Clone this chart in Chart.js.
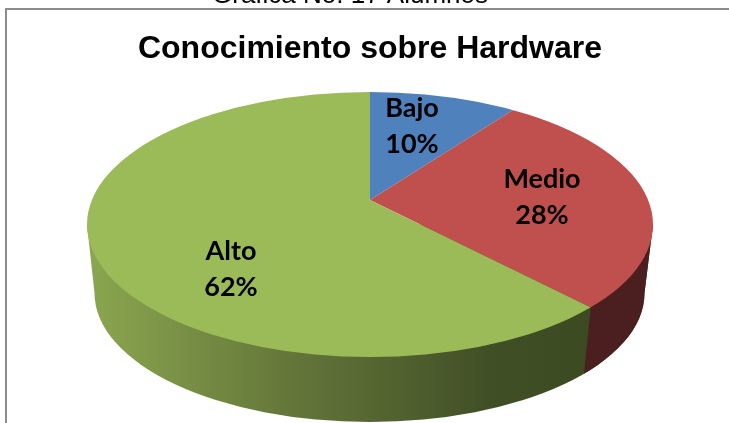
<!DOCTYPE html>
<html><head><meta charset="utf-8">
<style>html,body{margin:0;padding:0;background:#fff;overflow:hidden}canvas{display:block}</style>
<script src="https://cdn.jsdelivr.net/npm/chart.js@4"></script>
</head><body><canvas id="c" width="729" height="423"></canvas>
<script>
const categories = ['Bajo', 'Medio', 'Alto'];
const values = [10, 28, 62];
const sliceColors = ['#4f81bd', '#c0504d', '#9bbb59'];
const caption = 'Gráfica No. 17 Alumnos';
const chartTitle = 'Conocimiento sobre Hardware';

const APEX = {x: 370, y: 200}, TILT = 0.457;
const TOP_E = {cx: 370, cy: 224.5, rx: 283, ry: 132.5};
const BOT_E = {cx: 369.5, cy: 293, rx: 275, ry: 129};
const LABEL_AT = [{x: 412, y: 126.5}, {x: 542, y: 197}, {x: 231, y: 269}];

function rim(a) {
  const dx = Math.cos(a), dy = TILT * Math.sin(a);
  const ox = APEX.x - TOP_E.cx, oy = APEX.y - TOP_E.cy;
  const A = dx*dx/(TOP_E.rx*TOP_E.rx) + dy*dy/(TOP_E.ry*TOP_E.ry);
  const B = 2*(ox*dx/(TOP_E.rx*TOP_E.rx) + oy*dy/(TOP_E.ry*TOP_E.ry));
  const C = ox*ox/(TOP_E.rx*TOP_E.rx) + oy*oy/(TOP_E.ry*TOP_E.ry) - 1;
  const t = (-B + Math.sqrt(B*B - 4*A*C)) / (2*A);
  const px = APEX.x + t*dx, py = APEX.y + t*dy;
  const p = Math.atan2((py-TOP_E.cy)/TOP_E.ry, (px-TOP_E.cx)/TOP_E.rx);
  return {top: {x: px, y: py}, bot: {x: BOT_E.cx + BOT_E.rx*Math.cos(p), y: BOT_E.cy + BOT_E.ry*Math.sin(p)}};
}
function wallPath(ctx) {
  ctx.beginPath();
  ctx.moveTo(TOP_E.cx - TOP_E.rx, TOP_E.cy);
  ctx.lineTo(BOT_E.cx - BOT_E.rx, BOT_E.cy);
  ctx.ellipse(BOT_E.cx, BOT_E.cy, BOT_E.rx, BOT_E.ry, 0, Math.PI, 0, true);
  ctx.lineTo(TOP_E.cx + TOP_E.rx, TOP_E.cy);
  ctx.closePath();
}
const tiltedPie = {
  id: 'tiltedPie',
  beforeDraw(chart) {
    const ctx = chart.ctx;
    ctx.save();
    ctx.fillStyle = '#fff';
    ctx.fillRect(0, 0, 729, 423);
    ctx.fillStyle = '#8c8c8c';
    ctx.fillRect(5, 8, 724, 2);
    ctx.fillRect(5, 8, 2, 415);
    ctx.fillStyle = '#000';
    ctx.font = '26px "Liberation Sans"';
    ctx.textAlign = 'center';
    ctx.textBaseline = 'alphabetic';
    ctx.fillText(caption, 350, 3);
    ctx.restore();
  },
  beforeDatasetsDraw(chart) {
    const ctx = chart.ctx, arcs = chart.getDatasetMeta(0).data, el = arcs[0];
    const seam = rim(arcs[1].endAngle);
    ctx.save();
    const g = ctx.createLinearGradient(87, 0, 590, 0);
    g.addColorStop(0, '#8ba750');
    g.addColorStop(0.38, '#66793b');
    g.addColorStop(0.8, '#414f26');
    g.addColorStop(1, '#3c4a22');
    wallPath(ctx);
    ctx.fillStyle = g;
    ctx.fill();
    ctx.save();
    ctx.beginPath();
    ctx.moveTo(seam.top.x, seam.top.y);
    ctx.lineTo(seam.bot.x, seam.bot.y);
    ctx.lineTo(seam.bot.x, 423);
    ctx.lineTo(729, 423);
    ctx.lineTo(729, 0);
    ctx.lineTo(seam.top.x, 0);
    ctx.closePath();
    ctx.clip();
    wallPath(ctx);
    ctx.fillStyle = '#4b1f1f';
    ctx.fill();
    ctx.restore();
    ctx.restore();

    ctx.save();
    ctx.beginPath();
    ctx.ellipse(TOP_E.cx, TOP_E.cy, TOP_E.rx, TOP_E.ry, 0, 0, Math.PI*2);
    ctx.clip();
    const s = 700 / el.outerRadius;
    ctx.translate(APEX.x, APEX.y);
    ctx.scale(s, s*TILT);
    ctx.translate(-el.x, -el.y);
  },
  afterDatasetsDraw(chart) {
    const ctx = chart.ctx;
    ctx.restore();
    ctx.save();
    ctx.fillStyle = '#000';
    ctx.font = 'bold 27px Lato';
    ctx.textAlign = 'center';
    ctx.textBaseline = 'middle';
    categories.forEach((c, i) => {
      ctx.fillText(c, LABEL_AT[i].x, LABEL_AT[i].y - 18);
      ctx.fillText(values[i] + '%', LABEL_AT[i].x, LABEL_AT[i].y + 18);
    });
    ctx.restore();
  }
};
new Chart(document.getElementById('c'), {
  type: 'pie',
  data: {labels: categories, datasets: [{data: values, backgroundColor: sliceColors, borderWidth: 0, clip: false}]},
  options: {
    responsive: false,
    animation: false,
    layout: {padding: {left: 11, top: 0}},
    plugins: {
      legend: {display: false},
      tooltip: {enabled: false},
      title: {display: true, text: chartTitle, color: '#000',
        font: {family: '"Liberation Sans"', size: 32, weight: 'bold'}, padding: {top: 30, bottom: 10}}
    }
  },
  plugins: [tiltedPie]
});
</script></body></html>
